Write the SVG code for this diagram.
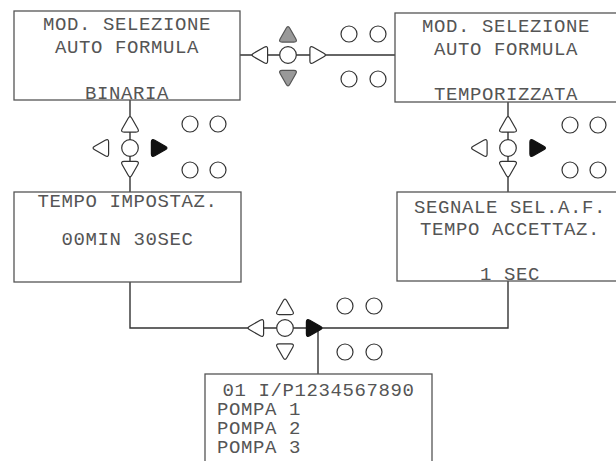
<svg xmlns="http://www.w3.org/2000/svg" width="616" height="461" viewBox="0 0 616 461">
<style>
.box{fill:#fff;stroke:#555;stroke-width:1.3}
.t{font-family:"Liberation Mono","Courier New",monospace;font-size:19px;letter-spacing:0.6px;fill:#555}
.c{text-anchor:middle}
.ln{fill:none;stroke:#333;stroke-width:1.4}
.tri{fill:#fff;stroke:#333;stroke-width:1.2}
.gray{fill:#999;stroke:#555;stroke-width:1.2}
.blk{fill:#111;stroke:#111;stroke-width:1.2}
.dot{fill:#fff;stroke:#333;stroke-width:1.2}
</style>
<defs>
<path id="tr" d="M-5.2,-7.8 L5.3,-1.8 Q8.6,0 5.3,1.8 L-5.2,7.8 Q-8.6,9.7 -8.6,5.9 L-8.6,-5.9 Q-8.6,-9.7 -5.2,-7.8 Z"/>
</defs>
<g id="connectors">
<line class="ln" x1="240" y1="55" x2="395" y2="55"/>
<line class="ln" x1="130" y1="100" x2="130" y2="192"/>
<line class="ln" x1="508" y1="102" x2="508" y2="192"/>
<polyline class="ln" points="130,282 130,328 508,328 508,281"/>
<line class="ln" x1="318" y1="328" x2="318" y2="374"/>
</g>
<g id="box-binaria">
<rect class="box" x="14" y="11" width="226" height="89"/>
<text class="t c" x="127" y="30">MOD. SELEZIONE</text>
<text class="t c" x="127" y="53">AUTO FORMULA</text>
<text class="t c" x="127" y="99">BINARIA</text>
</g>
<g id="box-temporizzata">
<rect class="box" x="395" y="13" width="222" height="89"/>
<text class="t c" x="506" y="32">MOD. SELEZIONE</text>
<text class="t c" x="506" y="55">AUTO FORMULA</text>
<text class="t c" x="506" y="100">TEMPORIZZATA</text>
</g>
<g id="box-tempo-impostaz">
<rect class="box" x="14" y="192" width="227" height="90"/>
<text class="t c" x="127.5" y="207">TEMPO IMPOSTAZ.</text>
<text class="t c" x="127.5" y="245">00MIN 30SEC</text>
</g>
<g id="box-segnale">
<rect class="box" x="397" y="192" width="226" height="89"/>
<text class="t c" x="510" y="213">SEGNALE SEL.A.F.</text>
<text class="t c" x="510" y="235">TEMPO ACCETTAZ.</text>
<text class="t c" x="510" y="280">1 SEC</text>
</g>
<g id="box-pompe">
<rect class="box" x="205" y="374" width="227" height="100"/>
<text class="t c" x="318.5" y="396">01 I/P1234567890</text>
<text class="t" x="217" y="415">POMPA 1</text>
<text class="t" x="217" y="434">POMPA 2</text>
<text class="t" x="217" y="453">POMPA 3</text>
</g>
<g id="keys-top">
<use href="#tr" class="tri" transform="translate(259,55) rotate(180)"/>
<circle class="dot" cx="288" cy="55" r="8.3"/>
<use href="#tr" class="tri" transform="translate(318.5,55)"/>
<use href="#tr" class="gray" transform="translate(288,33.5) rotate(-90)"/>
<use href="#tr" class="gray" transform="translate(288,79) rotate(90)"/>
<circle class="dot" cx="349" cy="34" r="8"/>
<circle class="dot" cx="378" cy="34" r="8"/>
<circle class="dot" cx="349" cy="79" r="8"/>
<circle class="dot" cx="378" cy="79" r="8"/>
</g>
<g id="keys-left">
<use href="#tr" class="tri" transform="translate(130,123.5) rotate(-90)"/>
<circle class="dot" cx="130" cy="148" r="8.3"/>
<use href="#tr" class="tri" transform="translate(130,170) rotate(90)"/>
<use href="#tr" class="tri" transform="translate(100,148) rotate(180)"/>
<use href="#tr" class="blk" transform="translate(160,148)"/>
<circle class="dot" cx="190" cy="124" r="8"/>
<circle class="dot" cx="218" cy="124" r="8"/>
<circle class="dot" cx="190" cy="170" r="8"/>
<circle class="dot" cx="218" cy="170" r="8"/>
</g>
<g id="keys-right">
<use href="#tr" class="tri" transform="translate(508,123.5) rotate(-90)"/>
<circle class="dot" cx="508" cy="148" r="8.3"/>
<use href="#tr" class="tri" transform="translate(508,170) rotate(90)"/>
<use href="#tr" class="tri" transform="translate(478.5,148) rotate(180)"/>
<use href="#tr" class="blk" transform="translate(538.5,148)"/>
<circle class="dot" cx="570" cy="125" r="8"/>
<circle class="dot" cx="598" cy="125" r="8"/>
<circle class="dot" cx="570" cy="170" r="8"/>
<circle class="dot" cx="598" cy="170" r="8"/>
</g>
<g id="keys-bottom">
<use href="#tr" class="tri" transform="translate(255,328) rotate(180)"/>
<circle class="dot" cx="285" cy="328" r="8.3"/>
<use href="#tr" class="tri" transform="translate(285,306) rotate(-90)"/>
<use href="#tr" class="tri" transform="translate(285,352.5) rotate(90)"/>
<use href="#tr" class="blk" transform="translate(315,328)"/>
<circle class="dot" cx="345" cy="306" r="8"/>
<circle class="dot" cx="374" cy="306" r="8"/>
<circle class="dot" cx="345" cy="352" r="8"/>
<circle class="dot" cx="374" cy="352" r="8"/>
</g>
</svg>
